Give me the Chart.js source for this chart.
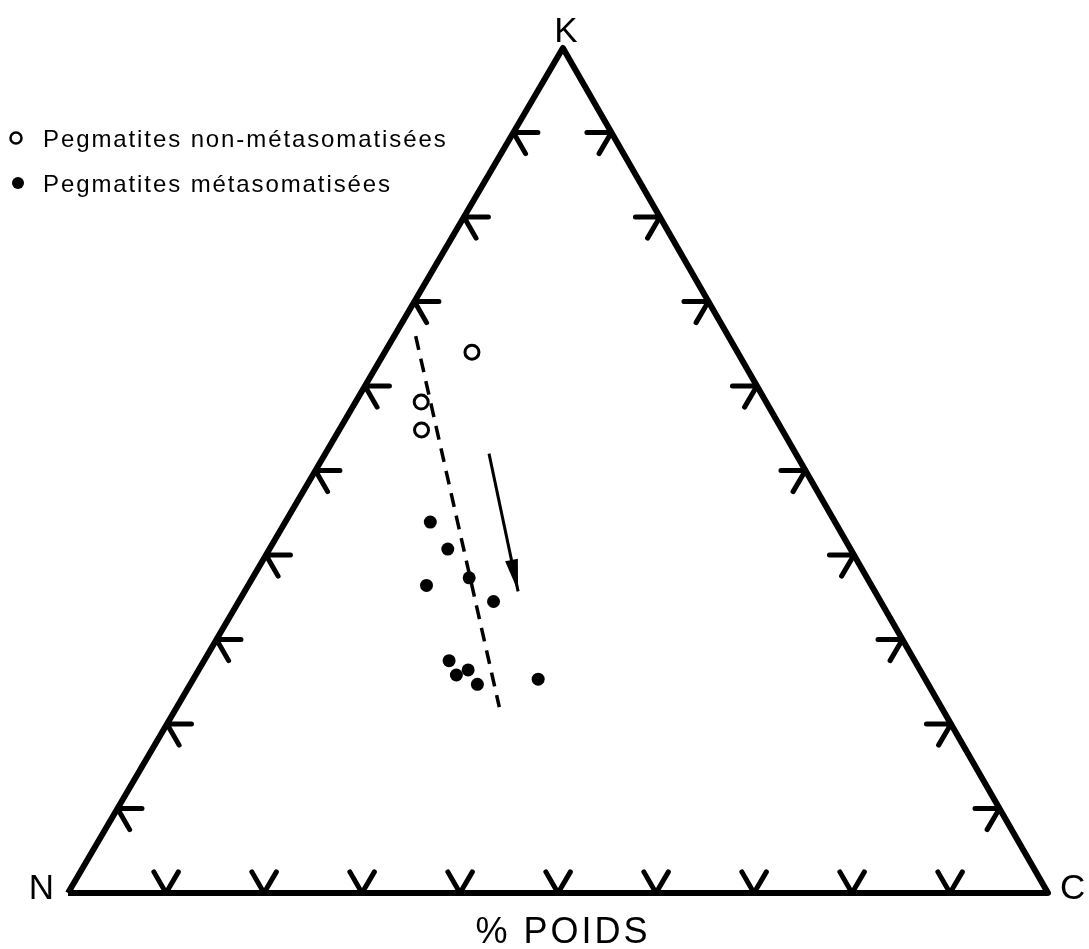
<!DOCTYPE html>
<html>
<head>
<meta charset="utf-8">
<script src="https://cdn.jsdelivr.net/npm/chart.js@4.4.1/dist/chart.umd.min.js"></script>
<style>
  html, body { margin: 0; padding: 0; background: #fff; }
  canvas { display: block; }
</style>
</head>
<body>
<canvas id="myChart" width="1089" height="949"></canvas>
<script>
// compositions in weight %: K (apex) and C (right corner); N = 100 - K - C
const seriesLabels = ["Pegmatites non-métasomatisées", "Pegmatites métasomatisées"];
const cornerLabels = ["K", "N", "C"];
const axisTitle = "% POIDS";
const tickValues = [10, 20, 30, 40, 50, 60, 70, 80, 90];

const openK = [64.0, 58.1, 54.8];
const openC = [8.9, 6.7, 8.4];

const filledK = [43.9, 40.7, 37.3, 36.4, 34.5, 27.5, 26.4, 25.8, 24.7, 25.3];
const filledC = [14.8, 18.2, 22.1, 18.2, 26.0, 25.0, 27.5, 26.6, 29.3, 35.2];

const trendK = [65.9, 22.0];
const trendC = [2.2, 32.9];

const arrowK = [52.0, 35.7];
const arrowC = [16.7, 27.9];

const APEX = 0.505; // where K sits above the N-C base (fraction of base)
const TICK = 2.5;   // tick arm length, in %

function tern(k, c) {
  if (k === null) return { x: null, y: null };
  return { x: (c + k * APEX) / 100, y: k / 100 };
}
const pts = (ks, cs) => ks.map((k, i) => tern(k, cs[i]));

// N -> K -> C -> N
const frame = [tern(0, 0), tern(100, 0), tern(0, 100), tern(0, 0)];

const tickMarks = [];
tickValues.forEach((t) => {
  // N-K side
  tickMarks.push(tern(t, TICK), tern(t, 0), tern(t - TICK, TICK), tern(null));
  // N-C side
  tickMarks.push(tern(TICK, t), tern(0, t), tern(TICK, t - TICK), tern(null));
  // K-C side
  tickMarks.push(tern(t, 100 - t - TICK), tern(t, 100 - t), tern(t - TICK, 100 - t), tern(null));
});

const annotate = {
  id: "annotate",
  afterDatasetsDraw(chart) {
    const { ctx, scales: { x, y } } = chart;
    const px = (p) => [x.getPixelForValue(p.x), y.getPixelForValue(p.y)];
    ctx.save();
    ctx.fillStyle = "#000";
    ctx.strokeStyle = "#000";

    // arrow head
    const [x0, y0] = px(tern(arrowK[0], arrowC[0]));
    const [x1, y1] = px(tern(arrowK[1], arrowC[1]));
    const a = Math.atan2(y1 - y0, x1 - x0);
    const len = 32, half = 6.5;
    const bx = x1 - len * Math.cos(a), by = y1 - len * Math.sin(a);
    ctx.beginPath();
    ctx.moveTo(x1, y1);
    ctx.lineTo(bx + half * Math.sin(a), by - half * Math.cos(a));
    ctx.lineTo(bx - half * Math.sin(a), by + half * Math.cos(a));
    ctx.closePath();
    ctx.fill();

    // corner labels
    ctx.font = "35px 'Liberation Sans', Arial, sans-serif";
    ctx.textBaseline = "alphabetic";
    const [kx, ky] = px(tern(100, 0));
    const [nx, ny] = px(tern(0, 0));
    const [cx, cy] = px(tern(0, 100));
    ctx.textAlign = "center";
    ctx.fillText(cornerLabels[0], kx + 3, ky - 6);
    ctx.textAlign = "right";
    ctx.fillText(cornerLabels[1], nx - 14, ny + 6);
    ctx.textAlign = "left";
    ctx.fillText(cornerLabels[2], cx + 12, cy + 6);

    // axis title
    ctx.font = "36px 'Liberation Sans', Arial, sans-serif";
    ctx.letterSpacing = "3px";
    ctx.textAlign = "center";
    ctx.fillText(axisTitle, kx, ny + 50);

    // legend
    ctx.font = "24px 'Liberation Sans', Arial, sans-serif";
    ctx.letterSpacing = "1.9px";
    ctx.textAlign = "left";
    ctx.beginPath();
    ctx.arc(16, 138, 5.5, 0, Math.PI * 2);
    ctx.lineWidth = 2.5;
    ctx.stroke();
    ctx.fillText(seriesLabels[0], 43, 147);
    ctx.beginPath();
    ctx.arc(18, 183, 6, 0, Math.PI * 2);
    ctx.fill();
    ctx.fillText(seriesLabels[1], 43, 192);
    ctx.restore();
  },
};

new Chart(document.getElementById("myChart").getContext("2d"), {
  type: "scatter",
  data: {
    datasets: [
      {
        label: "frame",
        data: frame,
        showLine: true,
        borderColor: "#000",
        borderWidth: 6,
        borderJoinStyle: "round",
        pointRadius: 0,
        clip: false,
        order: 3,
      },
      {
        label: "ticks",
        data: tickMarks,
        showLine: true,
        spanGaps: false,
        borderColor: "#000",
        borderWidth: 5,
        borderCapStyle: "round",
        borderJoinStyle: "round",
        pointRadius: 0,
        clip: false,
        order: 3,
      },
      {
        label: "trend",
        data: pts(trendK, trendC),
        showLine: true,
        borderColor: "#000",
        borderWidth: 3.5,
        borderDash: [14, 9],
        pointRadius: 0,
        order: 2,
      },
      {
        label: "arrow",
        data: pts(arrowK, arrowC),
        showLine: true,
        borderColor: "#000",
        borderWidth: 3,
        pointRadius: 0,
        order: 2,
      },
      {
        label: seriesLabels[0],
        data: pts(openK, openC),
        pointRadius: 7,
        pointBorderWidth: 3,
        pointBorderColor: "#000",
        pointBackgroundColor: "#fff",
        order: 0,
      },
      {
        label: seriesLabels[1],
        data: pts(filledK, filledC),
        pointRadius: 6.5,
        pointBorderWidth: 0,
        pointBorderColor: "#000",
        pointBackgroundColor: "#000",
        order: 0,
      },
    ],
  },
  options: {
    responsive: false,
    animation: false,
    layout: { padding: { left: 68, right: 41, top: 48, bottom: 56 } },
    scales: {
      x: { type: "linear", min: 0, max: 1, display: false },
      y: { type: "linear", min: 0, max: 1, display: false },
    },
    plugins: {
      legend: { display: false },
      tooltip: { enabled: false },
    },
  },
  plugins: [annotate],
});
</script>
</body>
</html>
